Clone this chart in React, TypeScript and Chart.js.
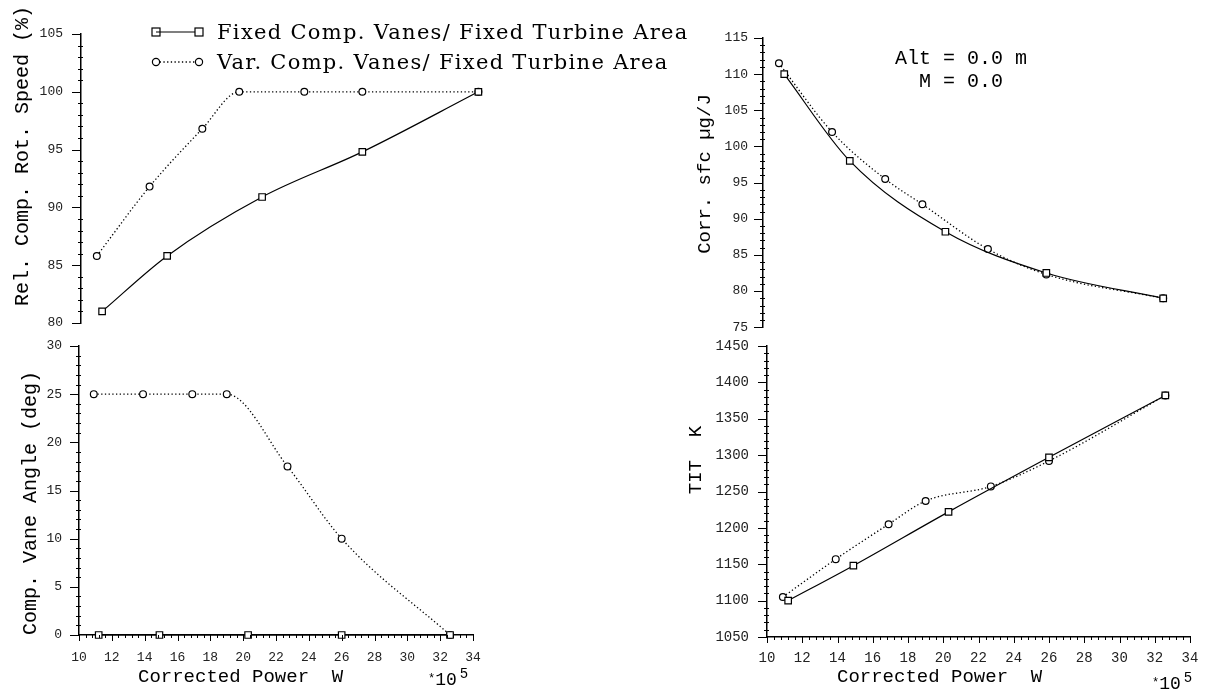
import React, { useEffect, useRef } from "react";
import { Chart, registerables } from "chart.js";

Chart.register(...registerables);

// ---------------- data ----------------
const seriesLabels = [
  "Fixed Comp. Vanes/ Fixed Turbine Area",
  "Var. Comp. Vanes/ Fixed Turbine Area",
];
const fixedPower = [11.2, 14.9, 20.3, 26.0, 32.6];
const varPower = [10.9, 13.9, 16.9, 19.0, 22.7, 26.0, 32.6];

const fixedRotSpeed = [81.0, 85.8, 90.9, 94.8, 100.0];
const varRotSpeed = [85.8, 91.8, 96.8, 100.0, 100.0, 100.0, 100.0];

const fixedVaneAngle = [0, 0, 0, 0, 0];
const varVaneAngle = [25, 25, 25, 25, 17.5, 10, 0];

const fixedSfc = [110.0, 98.0, 88.2, 82.5, 79.0];
const varSfc = [111.5, 102.0, 95.5, 92.0, 85.8, 82.3, 79.0];

const fixedTit = [1100, 1148, 1222, 1297, 1382];
const varTit = [1105, 1157, 1205, 1237, 1257, 1292, 1382];

const powerTicks = [10, 12, 14, 16, 18, 20, 22, 24, 26, 28, 30, 32, 34];
const rotSpeedTicks = [80, 85, 90, 95, 100, 105];
const vaneTicks = [0, 5, 10, 15, 20, 25, 30];
const sfcTicks = [75, 80, 85, 90, 95, 100, 105, 110, 115];
const titTicks = [1050, 1100, 1150, 1200, 1250, 1300, 1350, 1400, 1450];

// --------------- plugin: tick marks (major + minor) ---------------
const tickMarks = {
  id: "tickMarks",
  afterDraw(chart: any, _args: any, opts: any) {
    const { ctx, chartArea } = chart;
    ctx.save();
    ctx.strokeStyle = "#000";
    ctx.lineWidth = 1;
    const ys = chart.scales.y;
    const lx = Math.round(chartArea.left);
    const yT: number[] = opts.yTicks;
    const yMin = yT[0];
    const yMax = yT[yT.length - 1];
    const yStep = (yT[1] - yT[0]) / opts.minorPerMajor;
    const ny = Math.round((yMax - yMin) / yStep);
    for (let j = 0; j <= ny; j++) {
      const p = Math.round(ys.getPixelForValue(yMin + j * yStep)) + 0.5;
      const major = j % opts.minorPerMajor === 0;
      ctx.beginPath();
      ctx.moveTo(lx - (major ? 9 : 3), p);
      ctx.lineTo(lx + (major ? 0 : 2), p);
      ctx.stroke();
    }
    if (opts.xShown) {
      const xs = chart.scales.x;
      const by = Math.round(chartArea.bottom);
      const xT: number[] = opts.xTicks;
      const xMin = xT[0];
      const xMax = xT[xT.length - 1];
      const xStep = (xT[1] - xT[0]) / opts.minorPerMajor;
      const nx = Math.round((xMax - xMin) / xStep);
      for (let j = 0; j <= nx; j++) {
        const p = Math.round(xs.getPixelForValue(xMin + j * xStep)) + 0.5;
        const major = j % opts.minorPerMajor === 0;
        ctx.beginPath();
        ctx.moveTo(p, by);
        ctx.lineTo(p, by + (major ? 6 : 3));
        ctx.stroke();
      }
    }
    ctx.restore();
  },
};

type Spec = {
  fixed: number[];
  vary: number[];
  yTicks: number[];
  xShown: boolean;
  yWidth: number;
  xHeight: number;
  pad: { top: number; right: number; bottom: number };
  yLabelPad: number;
  xLabelPad: number;
  yTickSize: number;
  xTickSize: number;
};

function makeConfig(s: Spec): any {
  const tickFont = (size: number) => ({ family: "Liberation Mono", size });
  return {
    type: "line",
    data: {
      datasets: [
        {
          label: seriesLabels[0],
          data: fixedPower.map((x, i) => ({ x, y: s.fixed[i] })),
          borderColor: "#000",
          borderWidth: 1.2,
          pointStyle: "rect",
          pointRadius: 4.6,
          pointBackgroundColor: "#fff",
          pointBorderColor: "#000",
          pointBorderWidth: 1.2,
          cubicInterpolationMode: "monotone",
          fill: false,
          clip: false,
        },
        {
          label: seriesLabels[1],
          data: varPower.map((x, i) => ({ x, y: s.vary[i] })),
          borderColor: "#000",
          borderWidth: 1.3,
          borderDash: [1.3, 2.4],
          pointStyle: "circle",
          pointRadius: 3.4,
          pointBackgroundColor: "#fff",
          pointBorderColor: "#000",
          pointBorderWidth: 1.2,
          cubicInterpolationMode: "monotone",
          fill: false,
          clip: false,
        },
      ],
    },
    options: {
      responsive: false,
      animation: false,
      events: [],
      layout: { padding: { left: 0, top: s.pad.top, right: s.pad.right, bottom: s.pad.bottom } },
      plugins: {
        legend: { display: false },
        tooltip: { enabled: false },
        tickMarks: {
          yTicks: s.yTicks,
          xTicks: powerTicks,
          xShown: s.xShown,
          minorPerMajor: 5,
        },
      },
      scales: {
        x: {
          type: "linear",
          min: powerTicks[0],
          max: powerTicks[powerTicks.length - 1],
          display: s.xShown,
          afterBuildTicks: (sc: any) => {
            sc.ticks = powerTicks.map((v) => ({ value: v }));
          },
          afterFit: (sc: any) => {
            sc.height = s.xHeight;
          },
          grid: { display: false, drawTicks: true, tickLength: s.xLabelPad },
          border: { display: true, color: "#000", width: 1.5 },
          ticks: {
            padding: 0,
            color: "#222",
            font: tickFont(s.xTickSize),
            maxRotation: 0,
            autoSkip: false,
            callback: (v: any) => String(v),
          },
        },
        y: {
          type: "linear",
          min: s.yTicks[0],
          max: s.yTicks[s.yTicks.length - 1],
          afterBuildTicks: (sc: any) => {
            sc.ticks = s.yTicks.map((v) => ({ value: v }));
          },
          afterFit: (sc: any) => {
            sc.width = s.yWidth;
          },
          grid: { display: false, drawTicks: true, tickLength: s.yLabelPad },
          border: { display: true, color: "#000", width: 1.5 },
          ticks: {
            padding: 0,
            color: "#222",
            font: tickFont(s.yTickSize),
            autoSkip: false,
            callback: (v: any) => String(v),
          },
        },
      },
    },
    plugins: [tickMarks],
  };
}

function Panel(props: { left: number; top: number; width: number; height: number; spec: Spec }) {
  const ref = useRef<HTMLCanvasElement>(null);
  useEffect(() => {
    const chart = new Chart(ref.current as HTMLCanvasElement, makeConfig(props.spec));
    return () => chart.destroy();
  }, []);
  return (
    <canvas
      ref={ref}
      width={props.width}
      height={props.height}
      style={{ position: "absolute", left: props.left, top: props.top, width: props.width, height: props.height }}
    />
  );
}

const mono = '"Liberation Mono", monospace';

function YTitle(p: { cx: number; cy: number; size: number; text: string }) {
  return (
    <div
      style={{
        position: "absolute",
        left: p.cx,
        top: p.cy,
        transform: "translate(-50%, -50%) rotate(-90deg)",
        whiteSpace: "pre",
        font: `${p.size}px ${mono}`,
        lineHeight: "1",
        color: "#000",
      }}
    >
      {p.text}
    </div>
  );
}

function XTitle(p: { left: number; cy: number; text: string }) {
  return (
    <div
      style={{
        position: "absolute",
        left: p.left,
        top: p.cy - 10,
        whiteSpace: "pre",
        font: `19px ${mono}`,
        lineHeight: "20px",
        color: "#000",
      }}
    >
      {p.text}
    </div>
  );
}

function Scale10(p: { left: number; cy: number }) {
  return (
    <div
      style={{
        position: "absolute",
        left: p.left,
        top: p.cy - 10,
        whiteSpace: "pre",
        font: `18px ${mono}`,
        lineHeight: "20px",
        color: "#000",
      }}
    >
      <span style={{ fontSize: 12, verticalAlign: "3px" }}>*</span>10
      <span style={{ fontSize: 14, position: "relative", top: -7, marginLeft: 3 }}>5</span>
    </div>
  );
}

const legendFont: React.CSSProperties = {
  position: "absolute",
  left: 217,
  font: '21px "DejaVu Serif", serif',
  letterSpacing: "1.3px",
  lineHeight: "24px",
  whiteSpace: "pre",
  color: "#000",
};

export default function App() {
  const specTL: Spec = {
    fixed: fixedRotSpeed,
    vary: varRotSpeed,
    yTicks: rotSpeedTicks,
    xShown: false,
    yWidth: 81,
    xHeight: 0,
    pad: { top: 34, right: 17, bottom: 12 },
    yLabelPad: 18,
    xLabelPad: 15,
    yTickSize: 13,
    xTickSize: 13,
  };
  const specBL: Spec = {
    fixed: fixedVaneAngle,
    vary: varVaneAngle,
    yTicks: vaneTicks,
    xShown: true,
    yWidth: 79,
    xHeight: 56,
    pad: { top: 11, right: 27, bottom: 0 },
    yLabelPad: 17,
    xLabelPad: 15,
    yTickSize: 13,
    xTickSize: 13,
  };
  const specTR: Spec = {
    fixed: fixedSfc,
    vary: varSfc,
    yTicks: sfcTicks,
    xShown: false,
    yWidth: 73,
    xHeight: 0,
    pad: { top: 38, right: 18, bottom: 7 },
    yLabelPad: 15,
    xLabelPad: 13,
    yTickSize: 13,
    xTickSize: 14,
  };
  const specBR: Spec = {
    fixed: fixedTit,
    vary: varTit,
    yTicks: titTicks,
    xShown: true,
    yWidth: 77,
    xHeight: 54,
    pad: { top: 11, right: 16, bottom: 0 },
    yLabelPad: 18,
    xLabelPad: 13,
    yTickSize: 14,
    xTickSize: 14,
  };

  return (
    <div style={{ position: "absolute", left: 0, top: 0, width: 1206, height: 691, background: "#fff", overflow: "hidden" }}>
      <Panel left={0} top={0} width={520} height={335} spec={specTL} />
      <Panel left={0} top={335} width={500} height={356} spec={specBL} />
      <Panel left={690} top={0} width={516} height={335} spec={specTR} />
      <Panel left={690} top={335} width={516} height={356} spec={specBR} />

      <YTitle cx={23} cy={156} size={20} text="Rel. Comp. Rot. Speed (%)" />
      <YTitle cx={31} cy={503} size={20} text="Comp. Vane Angle (deg)" />
      <YTitle cx={705} cy={174} size={19} text="Corr. sfc µg/J" />
      <YTitle cx={696} cy={460} size={19} text="TIT  K" />

      <XTitle left={138} cy={677} text="Corrected Power  W" />
      <XTitle left={837} cy={677} text="Corrected Power  W" />
      <Scale10 left={428} cy={679} />
      <Scale10 left={1152} cy={683} />

      {/* legend */}
      <svg style={{ position: "absolute", left: 150, top: 24 }} width={56} height={46}>
        <line x1={6} y1={8} x2={48} y2={8} stroke="#000" strokeWidth={1.2} />
        <rect x={2} y={4} width={8} height={8} fill="none" stroke="#000" strokeWidth={1.2} />
        <rect x={45} y={4} width={8} height={8} fill="#fff" stroke="#000" strokeWidth={1.2} />
        <line x1={6} y1={38} x2={49} y2={38} stroke="#000" strokeWidth={1.3} strokeDasharray="1.3 2.4" />
        <circle cx={6} cy={38} r={3.6} fill="#fff" stroke="#000" strokeWidth={1.2} />
        <circle cx={49} cy={38} r={3.6} fill="#fff" stroke="#000" strokeWidth={1.2} />
      </svg>
      <div style={{ ...legendFont, top: 20 }}>{seriesLabels[0]}</div>
      <div style={{ ...legendFont, top: 50 }}>{seriesLabels[1]}</div>

      {/* condition annotation */}
      <div style={{ position: "absolute", left: 861, top: 47, width: 200, textAlign: "center", font: `20px ${mono}`, lineHeight: "23px", whiteSpace: "pre", color: "#000" }}>
        {"Alt = 0.0 m\nM = 0.0"}
      </div>
    </div>
  );
}
